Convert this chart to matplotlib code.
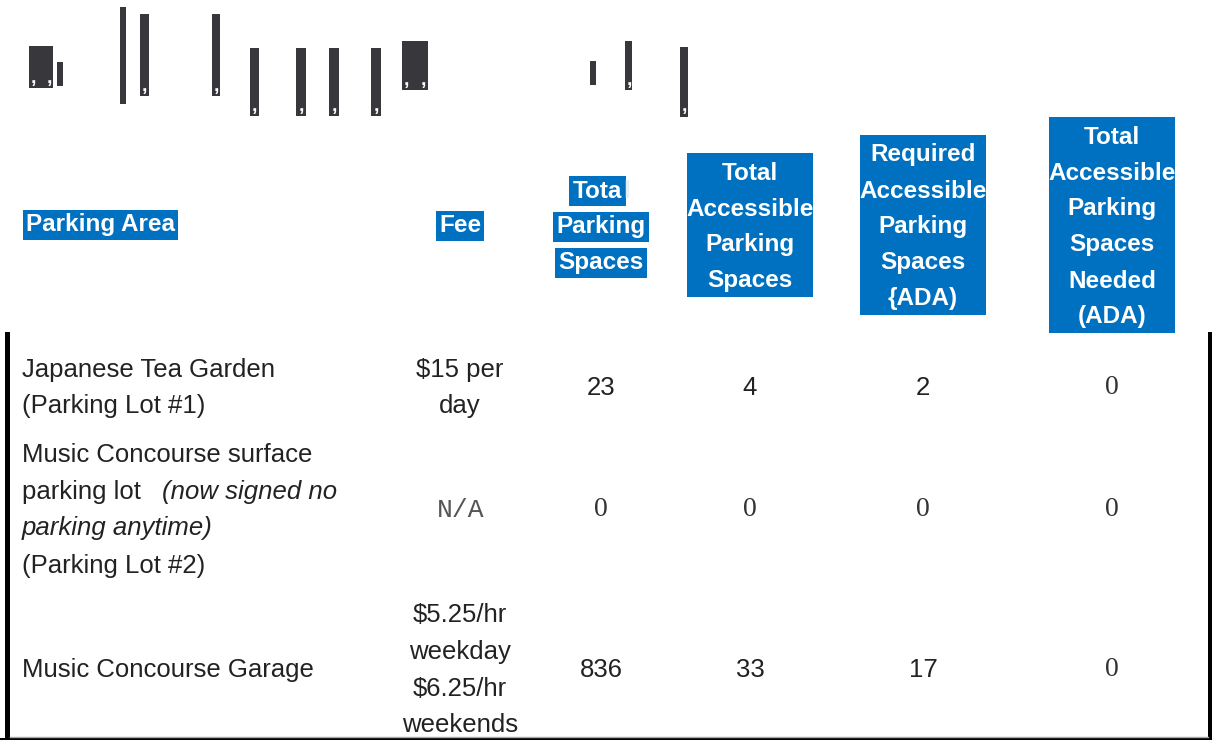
import matplotlib.pyplot as plt
from matplotlib.patches import Rectangle

# ---- table content ----
header_area = "Parking Area"
header_fee = "Fee"
header_total = ["Tota", "Parking", "Spaces"]
header_boxes = [
    ["Total", "Accessible", "Parking", "Spaces"],
    ["Required", "Accessible", "Parking", "Spaces", "{ADA)"],
    ["Total", "Accessible", "Parking", "Spaces", "Needed", "(ADA)"],
]

# each row: list of lines, each line: list of (text, style) runs
area_lines = [
    [[("Japanese Tea Garden", "normal")],
     [("(Parking Lot #1)", "normal")]],
    [[("Music Concourse surface", "normal")],
     [("parking lot   ", "normal"), ("(now signed no", "italic")],
     [("parking anytime)", "italic")],
     [("(Parking Lot #2)", "normal")]],
    [[("Music Concourse Garage", "normal")]],
]
fees = [["$15 per", "day"], ["N/A"], ["$5.25/hr", "weekday", "$6.25/hr", "weekends"]]
total_spaces = [23, 0, 836]
accessible_spaces = [4, 0, 33]
required_ada = [2, 0, 17]
needed_ada = [0, 0, 0]

# scan noise at the top of the page: (x, y, w, h, comma x positions)
scan_marks = [
    (29, 46, 24, 42, [33, 49]), (57, 62, 6, 24, []), (120, 7, 6, 97, []),
    (140, 14, 9, 82, [144]), (212, 14, 8, 82, [216]), (250, 48, 9, 68, [254]),
    (296, 48, 10, 68, [301]), (329, 48, 10, 68, [334]), (371, 48, 10, 68, [376]),
    (402, 41, 26, 49, [406, 423]), (590, 61, 6, 24, []), (625, 41, 7, 49, [629]),
    (680, 47, 8, 70, [684]),
]

W, H = 1212, 740
BLUE = '#0070c0'
SANS = 'Liberation Sans'
SERIF = 'Liberation Serif'
MONO = 'Liberation Mono'

fig = plt.figure(figsize=(W / 100, H / 100), dpi=100)
ax = fig.add_axes([0, 0, 1, 1])
ax.set_xlim(0, W)
ax.set_ylim(H, 0)
ax.axis('off')
renderer = fig.canvas.get_renderer()

for x, y, w, h, commas in scan_marks:
    ax.add_patch(Rectangle((x, y), w, h, color='#38373c', lw=0))
    for cx in commas:
        ax.text(cx, y + h - 10, ",", color='white', fontsize=14, fontweight='bold',
                family=SANS, ha='center', va='center')

# ---- header ----
head_mid = 227
head_lh = 36
hkw = dict(family=SANS, fontsize=17.5, fontweight='bold', color='white', va='center')
tight = dict(boxstyle='square,pad=0.14', fc=BLUE, ec='none')

ax.text(26, head_mid - 2, header_area, ha='left', bbox=tight, **hkw)
ax.text(460, head_mid - 1, header_fee, ha='center', bbox=tight, **hkw)

num_cols = [601, 750, 923, 1112]

n = len(header_total)
for i, line in enumerate(header_total):
    y = head_mid + (i - (n - 1) / 2) * head_lh
    if i == 0:
        probe = ax.text(0, 0, line + "l", ha='left', **hkw)
        w_full = probe.get_window_extent(renderer).width
        probe.remove()
        t = ax.text(num_cols[0] - w_full / 2, y, line, ha='left', bbox=tight, **hkw)
        x_end = t.get_window_extent(renderer).x1
        ax.text(x_end + 1, y, "l", ha='left', va='center', family=SANS, fontsize=17.5,
                fontweight='bold', color='#e6eef6')
    else:
        ax.text(num_cols[0], y, line, ha='center', bbox=tight, **hkw)

box_w = 126
box_mid = 225
for cx, lines in zip(num_cols[1:], header_boxes):
    n = len(lines)
    ax.add_patch(Rectangle((cx - box_w / 2, box_mid - n * head_lh / 2), box_w,
                           n * head_lh, color=BLUE, lw=0))
    for i, line in enumerate(lines):
        y = box_mid + 2 + (i - (n - 1) / 2) * head_lh
        ax.text(cx, y, line, ha='center', **hkw)

# ---- body ----
row_mid = [388, 510, 670]
body_lh = 37
ink = '#222222'
bkw = dict(family=SANS, fontsize=18.5, color=ink, va='center')

for r in range(3):
    lines = area_lines[r]
    n = len(lines)
    for i, runs in enumerate(lines):
        y = row_mid[r] + (i - (n - 1) / 2) * body_lh
        x = 22
        for txt, style in runs:
            t = ax.text(x, y, txt, ha='left', style=style, **bkw)
            x = t.get_window_extent(renderer).x1

    n = len(fees[r])
    for i, line in enumerate(fees[r]):
        y = row_mid[r] + (i - (n - 1) / 2) * body_lh
        if line == "N/A":
            ax.text(461, y, line, ha='center', va='center', family=MONO, fontsize=19,
                    color='#555555')
        else:
            ax.text(460, y, line, ha='center', **bkw)

    vals = [total_spaces[r], accessible_spaces[r], required_ada[r], needed_ada[r]]
    for cx, v in zip(num_cols, vals):
        if v == 0:
            ax.text(cx, row_mid[r], str(v), ha='center', va='center', family=SERIF,
                    fontsize=20, color='#333333')
        else:
            ax.text(cx, row_mid[r], str(v), ha='center', **bkw)

# ---- table borders ----
ax.add_patch(Rectangle((5, 332), 5, H - 332, color='black', lw=0))
ax.add_patch(Rectangle((1208, 332), 4, H - 332, color='black', lw=0))
ax.plot([10, 1208], [736.5, 736.5], color='#aaaaaa', lw=1)
ax.add_patch(Rectangle((0, 737.5), W, 2.5, color='black', lw=0))

fig.savefig('out.png', dpi=100)
